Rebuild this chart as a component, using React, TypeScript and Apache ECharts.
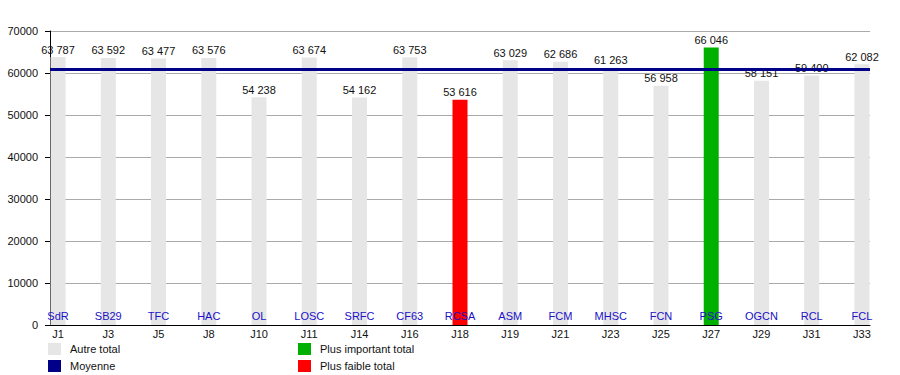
import React, { useEffect, useRef } from "react";
import * as echarts from "echarts";

const journees = ["J1", "J3", "J5", "J8", "J10", "J11", "J14", "J16", "J18", "J19", "J21", "J23", "J25", "J27", "J29", "J31", "J33"];
const equipes = ["SdR", "SB29", "TFC", "HAC", "OL", "LOSC", "SRFC", "CF63", "RCSA", "ASM", "FCM", "MHSC", "FCN", "PSG", "OGCN", "RCL", "FCL"];
const affluences = [63787, 63592, 63477, 63576, 54238, 63674, 54162, 63753, 53616, 63029, 62686, 61263, 56958, 66046, 58151, 59400, 62082];
const moyenne = 60794;
const yMax = 70000;
const yStep = 10000;

const FONT = "'Liberation Sans', Arial, sans-serif";
const GRIS = "#e6e6e6";
const VERT = "#00b000";
const ROUGE = "#ff0000";
const MARINE = "#000088";
const BLEU = "#2010c8";

const fmt = (v: number) => String(v).replace(/\B(?=(\d{3})+(?!\d))/g, " ");

export default function App() {
  const ref = useRef<HTMLDivElement>(null);
  useEffect(() => {
    if (!ref.current) return;
    const chart = echarts.init(ref.current, null, { renderer: "svg" });
    const maxV = Math.max(...affluences);
    const minV = Math.min(...affluences);
    const idx = journees.map((_, i) => i);
    const autre = affluences.map((v, i) => (v !== maxV && v !== minV ? [i, v] : [i, null]));
    const haut = affluences.map((v, i) => (v === maxV ? [i, v] : [i, null]));
    const bas = affluences.map((v, i) => (v === minV ? [i, v] : [i, null]));
    const label = {
      show: true,
      position: "top",
      distance: 2,
      color: "#111",
      fontSize: 11,
      fontFamily: FONT,
      formatter: (p: any) => fmt(p.value[1]),
    };
    const barBase = {
      type: "bar",
      stack: "t",
      barWidth: 15,
      z: 3,
      label,
    };
    chart.setOption({
      animation: false,
      textStyle: { fontFamily: FONT },
      grid: { left: 50, right: 30, top: 31, bottom: 50, containLabel: false },
      xAxis: [
        {
          type: "value",
          min: -0.16,
          max: 16.16,
          position: "bottom",
          axisLine: { show: true, onZero: false, lineStyle: { color: "#000", width: 1 } },
          axisTick: { show: false },
          splitLine: { show: false },
          axisLabel: {
            customValues: idx,
            margin: 3,
            color: "#111",
            fontSize: 11,
            fontFamily: FONT,
            formatter: (v: number) => journees[Math.round(v)] ?? "",
          },
        },
        {
          type: "value",
          min: -0.16,
          max: 16.16,
          position: "bottom",
          z: 10,
          axisLine: { show: false },
          axisTick: { show: false },
          splitLine: { show: false },
          axisLabel: {
            customValues: idx,
            inside: true,
            margin: 4,
            color: BLEU,
            fontSize: 11,
            fontFamily: FONT,
            formatter: (v: number) => equipes[Math.round(v)] ?? "",
          },
        },
      ],
      yAxis: {
        type: "value",
        min: 0,
        max: yMax,
        interval: yStep,
        axisLine: { show: true, onZero: false, lineStyle: { color: "#000", width: 1 } },
        axisTick: { show: true, length: 5, lineStyle: { color: "#000" } },
        splitLine: { show: true, lineStyle: { color: "#aaaaaa", width: 1 } },
        axisLabel: {
          margin: 12,
          color: "#111",
          fontSize: 11,
          fontFamily: FONT,
          formatter: (v: number) => String(v),
        },
      },
      legend: [
        {
          orient: "vertical",
          left: 48,
          top: 343,
          padding: 0,
          itemWidth: 13,
          itemHeight: 12,
          itemGap: 5,
          icon: "rect",
          textStyle: { color: "#111", fontSize: 11, fontFamily: FONT, padding: [0, 0, 0, 4] },
          data: ["Autre total", "Moyenne"],
        },
        {
          orient: "vertical",
          left: 298,
          top: 343,
          padding: 0,
          itemWidth: 13,
          itemHeight: 12,
          itemGap: 5,
          icon: "rect",
          textStyle: { color: "#111", fontSize: 11, fontFamily: FONT, padding: [0, 0, 0, 4] },
          data: ["Plus important total", "Plus faible total"],
        },
      ],
      series: [
        {
          name: "Moyenne",
          type: "line",
          data: [],
          z: 2,
          itemStyle: { color: MARINE },
          lineStyle: { color: MARINE },
          markLine: {
            silent: true,
            symbol: "none",
            label: { show: false },
            lineStyle: { color: MARINE, width: 3, type: "solid" },
            data: [{ yAxis: moyenne }],
          },
        },
        { ...barBase, name: "Autre total", itemStyle: { color: GRIS }, data: autre },
        { ...barBase, name: "Plus important total", itemStyle: { color: VERT }, data: haut },
        { ...barBase, name: "Plus faible total", itemStyle: { color: ROUGE }, data: bas },
      ],
    });
    return () => chart.dispose();
  }, []);
  return <div ref={ref} style={{ position: "absolute", left: 0, top: 0, width: 900, height: 375 }} />;
}
